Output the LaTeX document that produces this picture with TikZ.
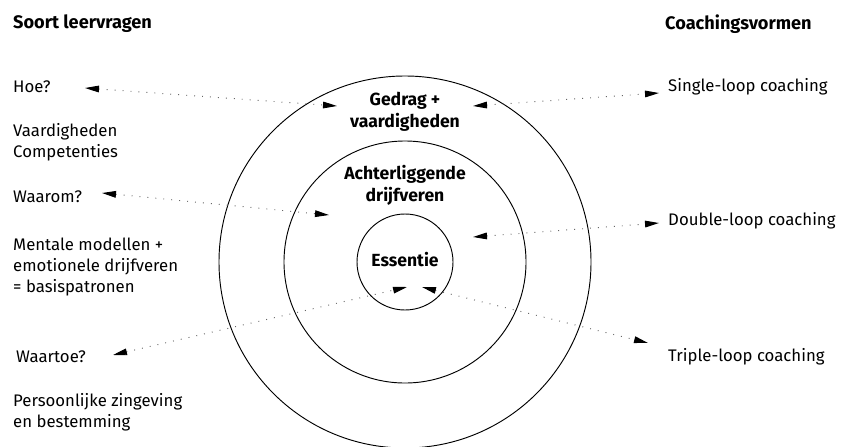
\documentclass[tikz,border=0pt]{standalone}
\usepackage{fontspec}
\setmainfont{Fira Sans}
\usetikzlibrary{positioning,arrows.meta}

\begin{document}
\begin{tikzpicture}[
  x=0.03cm, y=-0.03cm,
  ring/.style={circle, draw, line width=0.8pt, inner sep=0pt},
  question/.style={anchor=west, inner sep=0pt, align=left, font=\fontsize{14.3}{17.9}\selectfont},
  head/.style={anchor=west, inner sep=0pt, font=\fontsize{15.5}{17.9}\selectfont\bfseries},
  layer/.style={inner sep=0pt, align=center, font=\fontsize{15}{18.5}\selectfont\bfseries},
  link/.style={{Triangle[length=0.42cm,width=0.2cm,black]}-{Triangle[length=0.42cm,width=0.2cm,black]},
    black!60, line width=0.8pt, dash pattern=on 0.8pt off 6pt}
]
\useasboundingbox (0,0) rectangle (841,446);

% Rings
\node[ring, minimum size=11.16cm] (Outer) at (405,262) {};
\node[ring, minimum size=7.26cm] (Middle) at (405,262) {};
\node[ring, minimum size=2.88cm] (Inner) at (405,262) {};

% Ring texts
\node[layer] (Gedrag) at (405,112) {Gedrag +\\vaardigheden};
\node[layer] (Drijf) at (405,185) {Achterliggende\\drijfveren};
\node[layer] (Essentie) at (405,260) {Essentie};

% Left column
\node[head] (Leervragen) at (13,24) {Soort leervragen};
\node[question] (Hoe) at (13,87) {Hoe?};
\node[question] (Vaard) at (13,142) {Vaardigheden\\Competenties};
\node[question] (Waarom) at (13,197) {Waarom?};
\node[question] (Mentaal) at (13,267) {Mentale modellen +\\emotionele drijfveren\\= basispatronen};
\node[question] (Waartoe) at (16,357) {Waartoe?};
\node[question] (Zin) at (13,412) {Persoonlijke zingeving\\en bestemming};

% Right column
\node[head] (Vormen) at (665,24) {Coachingsvormen};
\node[question] (Single) at (668,87) {Single-loop coaching};
\node[question] (Double) at (668,221) {Double-loop coaching};
\node[question] (Triple) at (668,357) {Triple-loop coaching};

% Arrow ends
\coordinate (hoeL) at (85,88);
\coordinate (hoeR) at (337,106);
\coordinate (singleL) at (473,106);
\coordinate (singleR) at (659,93);
\coordinate (waaromL) at (102,193);
\coordinate (waaromR) at (329,215);
\coordinate (doubleL) at (473,237);
\coordinate (doubleR) at (659,223);
\coordinate (waartoeL) at (113,355);
\coordinate (waartoeR) at (407,287);
\coordinate (tripleL) at (422,287);
\coordinate (tripleR) at (648,343);

% Links
\draw[link] (hoeL) -- (hoeR);
\draw[link] (singleL) -- (singleR);
\draw[link] (waaromL) -- (waaromR);
\draw[link] (doubleL) -- (doubleR);
\draw[link] (waartoeL) -- (waartoeR);
\draw[link] (tripleL) -- (tripleR);

\end{tikzpicture}
\end{document}
